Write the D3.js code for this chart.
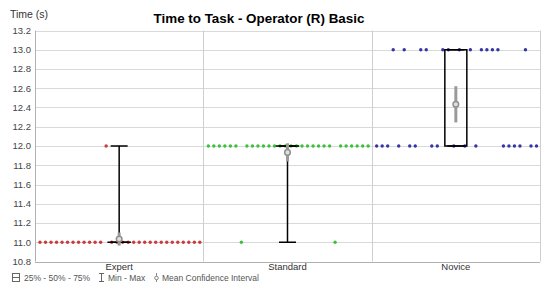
<!DOCTYPE html>
<meta charset="utf-8">
<head>
    <title>Time to Task - Operator (R) Basic</title>
    <style>
        body { margin: 0; background: #fff; }
        svg { display: block; font-family: "Liberation Sans", Arial, sans-serif; }
    </style>
</head>
<body>
    <script src="https://d3js.org/d3.v7.min.js"></script>
    <svg id="chart"></svg>
    <script>
        // data: 30 operators per group, in the order shown
        var groups = ["Expert", "Standard", "Novice"];
        var expertTimes = [11, 11, 11, 11, 11, 11, 11, 11, 11, 11, 11, 11, 12, 11, 11,
                           11, 11, 11, 11, 11, 11, 11, 11, 11, 11, 11, 11, 11, 11, 11];
        var standardTimes = [12, 12, 12, 12, 12, 12, 11, 12, 12, 12, 12, 12, 12, 12, 12,
                             12, 12, 12, 12, 12, 12, 12, 12, 11, 12, 12, 12, 12, 12, 12];
        var noviceTimes = [12, 12, 12, 13, 12, 13, 12, 12, 13, 13, 12, 12, 13, 13, 12,
                           13, 12, 13, 12, 13, 13, 13, 13, 12, 12, 12, 12, 13, 12, 12];
        var groupColors = ["#cc3b3b", "#3cbf3c", "#3434a8"];
        var yTicks = [10.8, 11.0, 11.2, 11.4, 11.6, 11.8, 12.0, 12.2, 12.4, 12.6, 12.8, 13.0, 13.2];

        var allTimes = [expertTimes, standardTimes, noviceTimes];

        var width = 550, height = 290;
        var margin = { top: 30.5, right: 10, bottom: 28.5, left: 35 };

        var svg = d3.select("#chart")
            .attr("width", width)
            .attr("height", height);

        var x = d3.scaleBand()
            .domain(groups)
            .range([margin.left, width - margin.right]);

        var y = d3.scaleLinear()
            .domain([10.8, 13.2])
            .range([height - margin.bottom, margin.top]);

        // position of each operator inside its band
        var xi = d3.scaleLinear()
            .domain([0, 29])
            .range([5, x.bandwidth() - 3.5]);

        // grid
        svg.append("g")
            .selectAll("line")
            .data(yTicks)
            .join("line")
            .attr("x1", margin.left)
            .attr("x2", width - margin.right)
            .attr("y1", d => Math.round(y(d)) + 0.5)
            .attr("y2", d => Math.round(y(d)) + 0.5)
            .attr("stroke", "#d9d9d9");

        svg.append("g")
            .selectAll("line")
            .data(groups.slice(1).map(g => x(g)).concat([width - margin.right]))
            .join("line")
            .attr("x1", d => Math.round(d) + 0.5)
            .attr("x2", d => Math.round(d) + 0.5)
            .attr("y1", y(13.2))
            .attr("y2", y(10.8))
            .attr("stroke", "#cfcfcf");

        // left axis line
        svg.append("line")
            .attr("x1", margin.left + 0.5).attr("x2", margin.left + 0.5)
            .attr("y1", y(13.2)).attr("y2", y(10.8))
            .attr("stroke", "#b0b0b0");
        svg.append("line")
            .attr("x1", margin.left).attr("x2", width - margin.right)
            .attr("y1", Math.round(y(10.8)) + 0.5).attr("y2", Math.round(y(10.8)) + 0.5)
            .attr("stroke", "#b0b0b0");

        // y tick labels
        svg.append("g")
            .selectAll("text")
            .data(yTicks)
            .join("text")
            .attr("x", 31)
            .attr("y", d => y(d))
            .attr("dy", "0.35em")
            .attr("text-anchor", "end")
            .attr("font-size", "9.5px")
            .attr("fill", "#444")
            .text(d => d.toFixed(1));

        svg.append("text")
            .attr("x", 10)
            .attr("y", 18)
            .attr("font-size", "10.5px")
            .attr("fill", "#333")
            .text("Time (s)");

        svg.append("text")
            .attr("x", 259)
            .attr("y", 22.5)
            .attr("text-anchor", "middle")
            .attr("font-size", "13.4px")
            .attr("font-weight", "bold")
            .attr("fill", "#000")
            .text("Time to Task - Operator (R) Basic");

        // category labels
        svg.append("g")
            .selectAll("text")
            .data(groups)
            .join("text")
            .attr("x", d => x(d) + x.bandwidth() / 2)
            .attr("y", 269.5)
            .attr("text-anchor", "middle")
            .attr("font-size", "9.5px")
            .attr("fill", "#333")
            .text(d => d);

        // operator dots
        groups.forEach(function(g, gi) {
            svg.append("g")
                .selectAll("circle")
                .data(allTimes[gi])
                .join("circle")
                .attr("cx", (d, i) => x(g) + xi(i))
                .attr("cy", d => y(d))
                .attr("r", 1.7)
                .attr("fill", groupColors[gi]);
        });

        // box, whiskers and mean confidence interval
        var boxW = 22, capW = 17;
        groups.forEach(function(g, gi) {
            var vals = allTimes[gi].slice().sort(d3.ascending);
            var q1 = d3.quantile(vals, 0.25), q3 = d3.quantile(vals, 0.75);
            var lo = d3.min(vals), hi = d3.max(vals);
            var mean = d3.mean(vals);
            var ci = 2.045 * d3.deviation(vals) / Math.sqrt(vals.length);
            var cx = x(g) + x.bandwidth() / 2;
            var gBox = svg.append("g");

            gBox.append("line")
                .attr("x1", cx).attr("x2", cx)
                .attr("y1", y(hi)).attr("y2", y(q3))
                .attr("stroke", "#000").attr("stroke-width", 1.5);
            gBox.append("line")
                .attr("x1", cx).attr("x2", cx)
                .attr("y1", y(q1)).attr("y2", y(lo))
                .attr("stroke", "#000").attr("stroke-width", 1.5);
            [lo, hi].forEach(function(v) {
                gBox.append("line")
                    .attr("x1", cx - capW / 2).attr("x2", cx + capW / 2)
                    .attr("y1", y(v)).attr("y2", y(v))
                    .attr("stroke", "#000").attr("stroke-width", 1.5);
            });
            gBox.append("rect")
                .attr("x", cx - boxW / 2)
                .attr("y", y(q3))
                .attr("width", boxW)
                .attr("height", Math.max(0.01, y(q1) - y(q3)))
                .attr("fill", "none")
                .attr("stroke", "#000").attr("stroke-width", 1.5);

            gBox.append("line")
                .attr("x1", cx).attr("x2", cx)
                .attr("y1", y(mean - ci)).attr("y2", y(mean + ci))
                .attr("stroke", "#9a9a9a").attr("stroke-width", 3);
            gBox.append("circle")
                .attr("cx", cx).attr("cy", y(mean))
                .attr("r", 2.8)
                .attr("fill", "#e0e0e0")
                .attr("stroke", "#8f8f8f").attr("stroke-width", 1.5);
        });

        // legend
        var legend = svg.append("g").attr("font-size", "8.5px").attr("fill", "#555");
        legend.append("rect").attr("x", 12.5).attr("y", 273.5).attr("width", 7).attr("height", 8)
            .attr("fill", "none").attr("stroke", "#666");
        legend.append("line").attr("x1", 12.5).attr("x2", 19.5).attr("y1", 277.5).attr("y2", 277.5)
            .attr("stroke", "#666");
        legend.append("text").attr("x", 24).attr("y", 281).text("25% - 50% - 75%");

        legend.append("line").attr("x1", 101.5).attr("x2", 101.5).attr("y1", 273.5).attr("y2", 281.5).attr("stroke", "#666");
        legend.append("line").attr("x1", 99).attr("x2", 104).attr("y1", 273.5).attr("y2", 273.5).attr("stroke", "#666");
        legend.append("line").attr("x1", 99).attr("x2", 104).attr("y1", 281.5).attr("y2", 281.5).attr("stroke", "#666");
        legend.append("text").attr("x", 108).attr("y", 281).text("Min - Max");

        legend.append("line").attr("x1", 156.5).attr("x2", 156.5).attr("y1", 273).attr("y2", 282).attr("stroke", "#888");
        legend.append("circle").attr("cx", 156.5).attr("cy", 278).attr("r", 1.8)
            .attr("fill", "#fff").attr("stroke", "#888");
        legend.append("text").attr("x", 162).attr("y", 281).text("Mean Confidence Interval");
    </script>
</body>
